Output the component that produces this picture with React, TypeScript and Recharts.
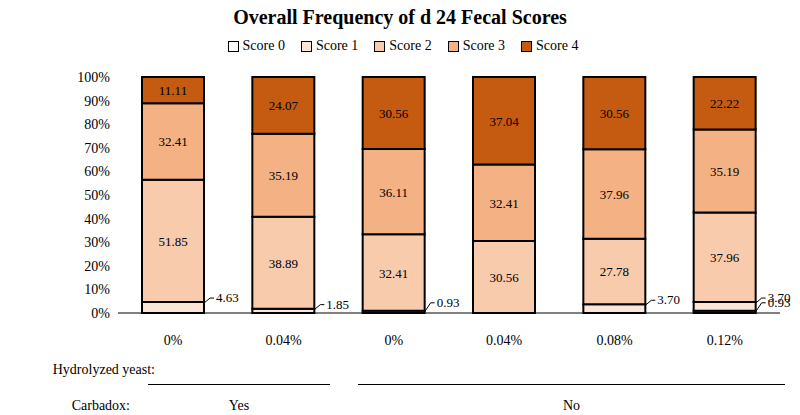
import { BarChart, Bar, XAxis, YAxis, LabelList } from 'recharts'

const yeast = ['0%', '0.04%', '0%', '0.04%', '0.08%', '0.12%']
const score0 = [0, 0, 0.93, 0, 0, 0.93]
const score1 = [4.63, 1.85, 0, 0, 3.7, 3.7]
const score2 = [51.85, 38.89, 32.41, 30.56, 27.78, 37.96]
const score3 = [32.41, 35.19, 36.11, 32.41, 37.96, 35.19]
const score4 = [11.11, 24.07, 30.56, 37.04, 30.56, 22.22]
const yTicks = [0, 10, 20, 30, 40, 50, 60, 70, 80, 90, 100]

const data = yeast.map((y, i) => ({
  id: i,
  yeast: y,
  s0: score0[i],
  s1: score1[i],
  s2: score2[i],
  s3: score3[i],
  s4: score4[i],
}))

const FONT = '"Liberation Serif", "DejaVu Serif", serif'
const COLORS = ['#ffffff', '#fbe5d6', '#f8cbad', '#f4b183', '#c55a11']

// small values sit outside the bar with a short leader line
const outsideLabel = (up: number) => (props: any) => {
  const { x, y, width, value } = props
  if (!value) return null
  const x0 = x + width
  const yy = y - up
  return (
    <g>
      <polyline points={`${x0},${y + 1} ${x0 + 6},${yy - 2} ${x0 + 10},${yy - 2}`} fill="none" stroke="#000" strokeWidth={1} />
      <text x={x0 + 12} y={yy + 2} fontSize={13} fontFamily={FONT} fill="#000">{Number(value).toFixed(2)}</text>
    </g>
  )
}

const insideLabel = (props: any) => {
  const { x, y, width, height, value } = props
  return (
    <text x={x + width / 2} y={y + height / 2 + 5} textAnchor="middle" fontSize={13} fontFamily={FONT} fill="#000">
      {Number(value).toFixed(2)}
    </text>
  )
}

const s0Label = (props: any) => {
  const up = props.index === 5 ? -3 : 6
  return outsideLabel(up)(props)
}

const s1Label = (props: any) => {
  const up = props.index === 5 ? 18 : 2
  return outsideLabel(up)(props)
}

export default function App() {
  return (
    <div style={{ position: 'absolute', left: 0, top: 0, width: 800, height: 415, background: '#fff', fontFamily: FONT }}>
      <div style={{ position: 'absolute', top: 6, width: 800, textAlign: 'center', fontSize: 20, fontWeight: 'bold' }}>
        Overall Frequency of d 24 Fecal Scores
      </div>
      <div style={{ position: 'absolute', top: 38, width: 800, display: 'flex', justifyContent: 'center', gap: 10, fontSize: 14 }}>
        {[0, 1, 2, 3, 4].map((i) => (
          <span key={i} style={{ display: 'flex', alignItems: 'center', gap: 4, marginLeft: 6 }}>
            <span style={{ width: 9, height: 9, background: COLORS[i], border: '1.5px solid #000' }} />
            Score {i}
          </span>
        ))}
      </div>
      <BarChart width={800} height={415} data={data} margin={{ top: 77, right: 20, left: 78, bottom: 72 }} barSize={62}>
        <YAxis
          type="number"
          domain={[0, 100]}
          ticks={yTicks}
          tickFormatter={(v) => `${v}%`}
          tick={{ fontSize: 14, fill: '#000', fontFamily: FONT }}
          tickLine={false}
          axisLine={false}
          width={40}
        />
        <XAxis
          dataKey="id"
          tickFormatter={(i) => yeast[i]}
          tick={{ fontSize: 14, fill: '#000', fontFamily: FONT, dy: 14 }}
          tickLine={false}
          axisLine={{ stroke: '#000' }}
        />
        <Bar dataKey="s0" stackId="a" fill={COLORS[0]} stroke="#000" strokeWidth={2} isAnimationActive={false}>
          <LabelList dataKey="s0" content={s0Label} />
        </Bar>
        <Bar dataKey="s1" stackId="a" fill={COLORS[1]} stroke="#000" strokeWidth={2} isAnimationActive={false}>
          <LabelList dataKey="s1" content={s1Label} />
        </Bar>
        <Bar dataKey="s2" stackId="a" fill={COLORS[2]} stroke="#000" strokeWidth={2} isAnimationActive={false}>
          <LabelList dataKey="s2" content={insideLabel} />
        </Bar>
        <Bar dataKey="s3" stackId="a" fill={COLORS[3]} stroke="#000" strokeWidth={2} isAnimationActive={false}>
          <LabelList dataKey="s3" content={insideLabel} />
        </Bar>
        <Bar dataKey="s4" stackId="a" fill={COLORS[4]} stroke="#000" strokeWidth={2} isAnimationActive={false}>
          <LabelList dataKey="s4" content={insideLabel} />
        </Bar>
      </BarChart>
      <div style={{ position: 'absolute', left: 0, width: 155, top: 362, textAlign: 'right', fontSize: 14 }}>Hydrolyzed yeast:</div>
      <div style={{ position: 'absolute', left: 148, width: 182, top: 384, borderTop: '1px solid #000' }} />
      <div style={{ position: 'absolute', left: 358, width: 427, top: 384, borderTop: '1px solid #000' }} />
      <div style={{ position: 'absolute', left: 0, width: 130, top: 398, textAlign: 'right', fontSize: 14 }}>Carbadox:</div>
      <div style={{ position: 'absolute', left: 148, width: 182, top: 398, textAlign: 'center', fontSize: 14 }}>Yes</div>
      <div style={{ position: 'absolute', left: 358, width: 427, top: 398, textAlign: 'center', fontSize: 14 }}>No</div>
    </div>
  )
}
